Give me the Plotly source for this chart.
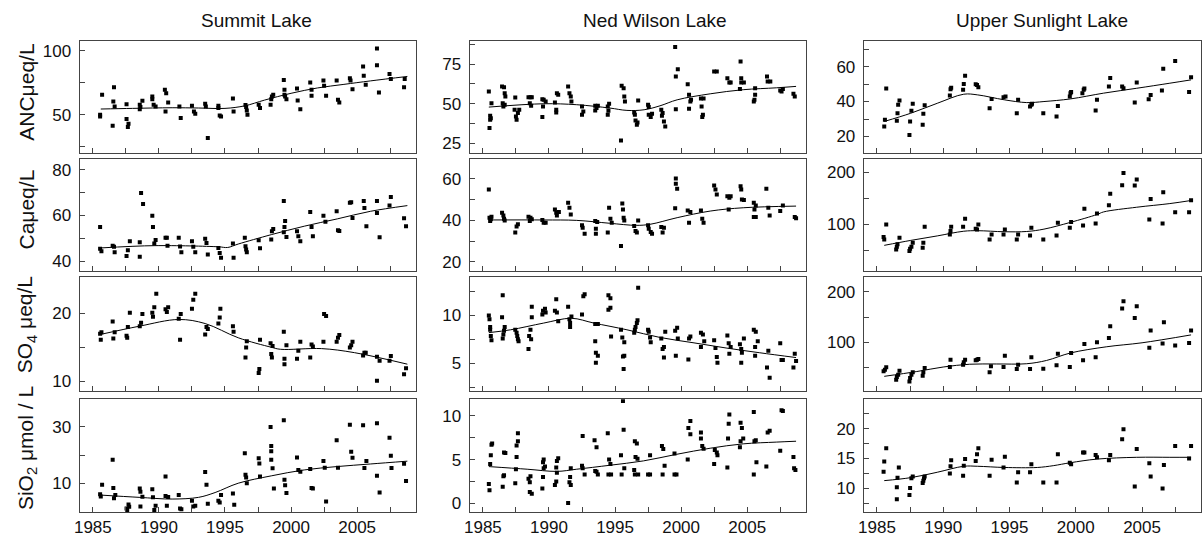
import plotly.graph_objects as go

# ---------------- DATA ----------------
lakes = ["Summit Lake", "Ned Wilson Lake", "Upper Sunlight Lake"]
variables = ["ANCμeq/L", "Caμeq/L", "SO<sub>4</sub> μeq/L", "SiO<sub>2</sub> μmol / L"]
x_tick_labels = ["1985", "", "1990", "", "1995", "", "2000", "", "2005", ""]
x_tick_years = [1985, 1987.5, 1990, 1992.5, 1995, 1997.5, 2000, 2002.5, 2005, 2007.5]

# Summit Lake
summit_anc_year = [1985.55, 1985.55, 1985.7, 1986.5, 1986.6, 1986.55, 1986.65, 1987.55, 1987.55, 1987.7, 1987.65,
                   1988.55, 1988.55, 1988.6, 1988.75, 1989.5, 1989.5, 1989.6, 1989.75, 1990.45, 1990.55, 1990.7, 1990.5,
                   1991.55, 1991.65, 1992.5, 1992.65, 1992.75, 1993.5, 1993.55, 1993.7, 1994.5, 1994.5, 1994.6, 1994.7,
                   1995.6, 1995.65, 1996.55, 1996.6, 1996.65, 1996.7, 1997.55, 1997.65, 1998.45, 1998.5, 1998.55, 1998.65,
                   1999.45, 1999.5, 1999.5, 1999.55, 1999.65, 2000.45, 2000.5, 2000.7, 2001.45, 2001.55, 2001.55,
                   2002.45, 2002.5, 2002.65, 2003.45, 2003.55, 2003.65, 2004.45, 2004.5, 2004.65, 2005.45, 2005.5, 2005.65,
                   2006.5, 2006.5, 2006.65, 2007.45, 2007.55, 2008.6, 2008.55]
summit_anc_value = [50, 48.7, 65.6, 41.4, 71.6, 60.4, 56.5, 58.3, 46.6, 43, 40.4,
                    57.8, 54.4, 56, 61, 64.3, 62.2, 57.8, 56.5, 69.5, 66.9, 59.6, 52.6,
                    56.5, 47.4, 57, 52.6, 50.8, 58.6, 56.5, 31.8, 57, 55.2, 49.5, 48.7,
                    62.8, 52.6, 57.6, 56, 53.4, 50, 57.8, 55.2, 57.8, 62.2, 64.3, 65.6,
                    77.3, 69.5, 65.6, 64.3, 62.2, 70.6, 61.2, 54.4, 75.3, 69.5, 64.8,
                    76.8, 72.7, 64.8, 76.8, 61.7, 59.6, 78.6, 76.8, 70, 87.8, 80.5, 73.4,
                    101.8, 88.8, 67.4, 82, 77.9, 77.9, 71.6]
summit_anc_trend_year = [1985.6, 1988, 1991, 1993, 1995, 1996.5, 1998, 2000, 2002, 2004, 2006, 2008.8]
summit_anc_trend_value = [54.5, 55, 55.5, 55.3, 55, 57, 61.5, 66.8, 71, 73.8, 76.5, 80]

summit_ca_year = [1985.55, 1985.55, 1985.65, 1986.5, 1986.6, 1986.65, 1987.55, 1987.65, 1987.8,
                  1988.55, 1988.55, 1988.65, 1988.8, 1989.5, 1989.55, 1989.65, 1989.75, 1990.5, 1990.6, 1990.65,
                  1991.5, 1991.6, 1991.7, 1992.5, 1992.6, 1992.75, 1993.5, 1993.6, 1993.7, 1994.5, 1994.6, 1994.7,
                  1995.65, 1995.6, 1996.5, 1996.55, 1996.6, 1996.65, 1997.55, 1997.65, 1998.5, 1998.55, 1998.65,
                  1999.45, 1999.55, 1999.5, 1999.45, 1999.65, 2000.45, 2000.55, 2000.7, 2001.45, 2001.55, 2001.65,
                  2002.45, 2002.6, 2003.45, 2003.55, 2003.65, 2004.45, 2004.55, 2004.65, 2005.5, 2005.55, 2005.7,
                  2006.5, 2006.5, 2006.7, 2007.45, 2007.55, 2008.55, 2008.7]
summit_ca_value = [55, 45.4, 44.4, 46.8, 46.3, 43.9, 42.3, 44.8, 48.7,
                   48.3, 41.9, 69.8, 65, 59.9, 55, 47.7, 49.3, 50.3, 50.3, 46.8,
                   50.3, 46.4, 43.9, 48.7, 46.3, 43.9, 49.8, 48, 42.9, 45.8, 43.6, 41.5,
                   41.5, 47.7, 50.3, 46.5, 45.1, 43.9, 49.2, 45.7, 49.5, 53.1, 54.1,
                   66.3, 57.6, 55, 52.7, 50.6, 53.1, 50.9, 48.7, 61.5, 55, 50.9,
                   59.9, 57.2, 61.8, 53.5, 53.2, 65.5, 65.8, 58.9, 66.3, 63.3, 55.3,
                   66.3, 61.1, 50.5, 64.3, 68.1, 58.8, 55.3]
summit_ca_trend_year = [1985.6, 1989.7, 1994.5, 1995.2, 1996, 1998.5, 2001, 2003.5, 2006, 2008.8]
summit_ca_trend_value = [45.8, 46.8, 46.3, 46.0, 47.5, 51.6, 55.3, 58.5, 61.8, 64.3]

summit_so4_year = [1985.55, 1985.65, 1985.6, 1986.5, 1986.55, 1986.65, 1987.55, 1987.6, 1987.65, 1987.8,
                   1988.55, 1988.65, 1988.75, 1989.5, 1989.55, 1989.65, 1989.8, 1990.5, 1990.6, 1990.7,
                   1991.5, 1991.6, 1991.65, 1992.5, 1992.6, 1992.75, 1993.5, 1993.6, 1993.7, 1994.5, 1994.6, 1994.65,
                   1995.6, 1995.65, 1996.55, 1996.6, 1996.65, 1997.55, 1997.6, 1997.65,
                   1998.45, 1998.55, 1998.5, 1998.6, 1999.45, 1999.5, 1999.5, 1999.65, 2000.45, 2000.55, 2000.7,
                   2001.45, 2001.55, 2001.65, 2002.45, 2002.5, 2002.65, 2003.45, 2003.55, 2003.65,
                   2004.45, 2004.55, 2004.65, 2005.45, 2005.55, 2005.65, 2006.5, 2006.5, 2006.7,
                   2007.45, 2007.55, 2008.55, 2008.7]
summit_so4_value = [17.0, 17.2, 16.1, 18.8, 16.3, 17.2, 16.7, 16.4, 18.0, 20.1,
                    18.1, 18.6, 19.9, 20.1, 19.5, 20.9, 22.9, 20.6, 20.2, 20.9,
                    19.2, 16.1, 19.9, 20.7, 22.0, 22.9, 16.9, 18.0, 17.7, 18.5, 19.4, 20.7,
                    18.1, 17.3, 13.5, 14.95, 15.9, 11.2, 11.8, 16.1,
                    15.6, 13.5, 14.0, 15.2, 17.3, 13.3, 12.5, 15.3, 13.3, 14.5, 15.8,
                    13.5, 15.4, 15.1, 15.8, 19.9, 19.6, 15.8, 16.4, 16.8,
                    14.95, 15.3, 15.8, 13.8, 14.2, 14.2, 13.6, 10.05, 13.0,
                    13.0, 13.7, 11.0, 11.9]
summit_so4_trend_year = [1985.6, 1988.5, 1991.5, 1993.5, 1996, 1998.5, 1999.2, 2002.3, 2004.8, 2008.8]
summit_so4_trend_value = [16.9, 18.1, 19.1, 18.5, 16.4, 15.0, 14.7, 14.8, 14.2, 12.5]

summit_sio2_year = [1985.55, 1985.6, 1985.7, 1986.5, 1986.55, 1986.6, 1986.7, 1987.55, 1987.7, 1987.75, 1987.6,
                    1988.55, 1988.6, 1988.75, 1988.6, 1989.5, 1989.55, 1989.75, 1989.65, 1990.5, 1990.5, 1990.7, 1990.6,
                    1991.5, 1991.6, 1991.7, 1992.5, 1992.6, 1992.75, 1993.5, 1993.6, 1993.7, 1994.5, 1994.6, 1994.7,
                    1995.6, 1995.7, 1996.5, 1996.55, 1996.6, 1996.65, 1997.55, 1997.6, 1997.65,
                    1998.45, 1998.5, 1998.5, 1998.5, 1998.6, 1998.7, 1999.45, 1999.5, 1999.55, 1999.65,
                    2000.45, 2000.55, 2000.7, 2001.45, 2001.55, 2001.65, 2002.45, 2002.55, 2002.65, 2003.45, 2003.55,
                    2004.45, 2004.55, 2004.65, 2005.45, 2005.55, 2005.7, 2006.5, 2006.5, 2006.7,
                    2007.45, 2007.55, 2007.6, 2008.55, 2008.7]
summit_sio2_value = [6.2, 5.4, 9.6, 18.4, 8.4, 4.8, 5.9, 1.2, 2.6, 1.8, 0.6,
                     8.2, 7.1, 5.3, 1.9, 8.0, 5.1, 2.1, 0.6, 12.5, 5.6, 5.2, 2.1,
                     5.9, 1.2, 0.9, 3.9, 1.9, 2.1, 14.1, 9.6, 2.8, 3.9, 3.3, 5.9,
                     6.5, 2.5, 20.7, 13.1, 12.1, 10.1, 18.9, 17.1, 12.5,
                     30, 23.3, 21.4, 18.4, 15.4, 8.2, 32.4, 11.3, 9.4, 6.6,
                     19.2, 14.8, 14.2, 15.1, 8.4, 8.2, 18, 15.6, 3.6, 25.3, 15.6,
                     30.8, 21.2, 19.1, 30.6, 15.5, 18, 31.3, 12.7, 6.8,
                     26.2, 19.8, 15.5, 17, 10.9]
summit_sio2_trend_year = [1985.6, 1988.5, 1991, 1993, 1994.25, 1996, 1998.5, 2001, 2003.5, 2006, 2008.8]
summit_sio2_trend_value = [5.9, 5.1, 4.5, 5.1, 6.8, 10.1, 12.7, 14.8, 16.0, 16.9, 17.9]

# Ned Wilson Lake
ned_anc_year = [1985.45, 1985.5, 1985.55, 1985.55, 1985.6, 1985.65,
                1986.45, 1986.6, 1986.65, 1986.7, 1986.5, 1986.55, 1986.65,
                1987.45, 1987.4, 1987.65, 1987.5, 1987.55, 1987.75,
                1988.45, 1988.6, 1988.7, 1988.55, 1988.65,
                1989.5, 1989.6, 1989.75, 1989.55, 1989.5,
                1990.45, 1990.55, 1990.55, 1990.6, 1990.7,
                1991.45, 1991.55, 1991.65, 1991.7,
                1992.5, 1992.5, 1992.6,
                1993.5, 1993.6, 1993.7, 1993.5,
                1994.45, 1994.55, 1994.5, 1994.45,
                1995.45, 1995.5, 1995.65, 1995.7, 1995.75,
                1996.45, 1996.5, 1996.55, 1996.65, 1996.7, 1996.75,
                1997.5, 1997.55, 1997.55, 1997.7, 1997.8,
                1998.5, 1998.6, 1998.55, 1998.7, 1998.8,
                1999.55, 1999.6, 1999.75, 1999.6,
                2000.5, 2000.6, 2000.7, 2000.75, 2000.6,
                2001.5, 2001.7, 2001.55, 2001.65, 2001.6,
                2002.5, 2002.7,
                2003.5, 2003.65, 2003.75,
                2004.5, 2004.55, 2004.55, 2004.75, 2004.45,
                2005.6, 2005.6, 2005.55, 2005.5,
                2006.5, 2006.55, 2006.75,
                2007.5, 2007.6, 2007.7,
                2008.5, 2008.6]
ned_anc_value = [57.7, 34.5, 39.8, 42.3, 40.8, 50.3,
                 60.9, 60.4, 56.6, 54.5, 50.3, 48.2, 49.3,
                 53.9, 46.1, 44, 41.9, 39.8, 46.1,
                 54.1, 54.1, 54.1, 50.3, 48.6,
                 52.8, 52.4, 51.4, 48.2, 41.5,
                 50.7, 46.1, 44.4, 56.6, 55.6,
                 60.9, 56.6, 54.5, 51.4,
                 48.2, 42.9, 45,
                 48.6, 47.2, 48.6, 45.7,
                 48.2, 49.9, 45.5, 42.9,
                 26.7, 61.3, 59.8, 54.5, 51.4,
                 44.4, 42.9, 39.3, 36.6, 38.1, 52,
                 49.3, 47.8, 42.9, 41.5, 43.6,
                 46.1, 44, 42.3, 38.7, 35.5,
                 85.8, 67.2, 71.8, 46.5,
                 62.3, 55.6, 51.4, 52.4, 46.7,
                 53.3, 53.3, 48.2, 42.9, 41.5,
                 70.4, 70.4,
                 66.1, 63.4, 63.4,
                 76.7, 66.1, 63.4, 63.4, 59.2,
                 59.8, 55.6, 52.4, 51.4,
                 67.2, 64, 64,
                 58.3, 57.7, 59.2,
                 56.2, 54.5]
ned_anc_trend_year = [1985.45, 1989.6, 1992.1, 1994.6, 1995.9, 1997.2, 1998.4, 1999.7, 2002.2, 2004.7, 2007.2, 2008.7]
ned_anc_trend_value = [47.8, 49.9, 49.3, 47.2, 45.7, 46.1, 48.6, 52.4, 56.2, 58.8, 60, 60.9]

ned_ca_year = [1985.45, 1985.5, 1985.6, 1985.55, 1985.65,
               1986.45, 1986.55, 1986.6, 1986.65,
               1987.45, 1987.55, 1987.65,
               1988.45, 1988.6, 1988.7, 1988.55,
               1989.5, 1989.6, 1989.75,
               1990.45, 1990.55, 1990.6, 1990.75,
               1991.45, 1991.55, 1991.65,
               1992.5, 1992.55, 1992.7,
               1993.5, 1993.65, 1993.55, 1993.55,
               1994.45, 1994.55, 1994.65, 1994.75,
               1995.45, 1995.55, 1995.6, 1995.65, 1995.7,
               1996.45, 1996.55, 1996.65, 1996.75,
               1997.5, 1997.55, 1997.7, 1997.8,
               1998.5, 1998.7, 1998.6,
               1999.6, 1999.6, 1999.7, 1999.55,
               2000.5, 2000.6, 2000.7,
               2001.5, 2001.6, 2001.7,
               2002.5, 2002.6, 2002.7,
               2003.5, 2003.65, 2003.75, 2003.6,
               2004.5, 2004.55, 2004.6, 2004.75,
               2005.5, 2005.55, 2005.5, 2005.65, 2005.65,
               2006.45, 2006.6, 2006.7,
               2007.5, 2007.7,
               2008.6, 2008.7]
ned_ca_value = [54.9, 41.3, 40.5, 39.7, 41.8,
                43.7, 42.4, 40.8, 40,
                34.1, 37, 38.1,
                41.8, 41.3, 40.5, 39.7,
                40.2, 38.9, 38.9,
                45.3, 43.7, 42.4, 44,
                48.5, 46.1, 42.9,
                37.6, 36.5, 33.6,
                39.7, 39.2, 36, 33.6,
                34.1, 46.1, 40.8, 38.9,
                27.6, 48.2, 45.3, 41.3, 40,
                37.3, 34.9, 34.1, 40,
                37.6, 36, 34.4, 33.6,
                36.8, 36.5, 34.1,
                60.2, 57.7, 55.3, 45.9,
                44.8, 38.9, 44,
                44.8, 40.8, 38.9,
                56.9, 54.9, 52.5,
                51.7, 50.9, 51.7, 45.3,
                56.5, 54.9, 50.1, 49.8,
                48.5, 45.3, 41.6, 41.6, 47.2,
                55.3, 46.1, 42.4,
                44.5, 47.2,
                41.6, 41]
ned_ca_trend_year = [1985.45, 1989.6, 1992.1, 1994.6, 1996.6, 1997.65, 1999.7, 2002.2, 2004.7, 2008.7]
ned_ca_trend_value = [40.2, 40.2, 40, 38.6, 37.6, 38.1, 41.3, 44.5, 46.1, 46.9]

ned_so4_year = [1985.45, 1985.5, 1985.55, 1985.55, 1985.6, 1985.65,
                1986.5, 1986.45, 1986.65, 1986.6, 1986.55, 1986.5,
                1987.45, 1987.55, 1987.6, 1987.65, 1987.7,
                1988.45, 1988.5, 1988.6, 1988.65, 1988.7, 1988.7,
                1989.5, 1989.55, 1989.7, 1989.75,
                1990.55, 1990.45, 1990.6, 1990.7,
                1991.45, 1991.55, 1991.6, 1991.6, 1991.7,
                1992.5, 1992.6, 1992.7,
                1993.5, 1993.7, 1993.5, 1993.55, 1993.7, 1993.55,
                1994.5, 1994.65, 1994.5, 1994.65, 1994.7,
                1995.45, 1995.55, 1995.7, 1995.6, 1995.7, 1995.65,
                1996.45, 1996.55, 1996.65, 1996.7, 1996.75, 1996.5,
                1997.5, 1997.55, 1997.65, 1997.7,
                1998.5, 1998.6, 1998.7, 1998.7, 1998.8,
                1999.55, 1999.7, 1999.75, 1999.6,
                2000.55, 2000.6, 2000.7,
                2001.5, 2001.65, 2001.5, 2001.75,
                2002.5, 2002.6, 2002.7, 2002.75,
                2003.5, 2003.6, 2003.65, 2003.75,
                2004.45, 2004.55, 2004.55, 2004.6, 2004.75,
                2005.5, 2005.65, 2005.6, 2005.6, 2005.8,
                2006.5, 2006.6, 2006.7,
                2007.5, 2007.6, 2007.7,
                2008.5, 2008.6, 2008.7]
ned_so4_value = [10.0, 9.6, 8.8, 8.5, 7.85, 7.4,
                 12.1, 9.8, 8.8, 8.4, 8.0, 7.6,
                 8.5, 8.2, 7.85, 7.5, 7.3,
                 6.5, 7.85, 8.5, 7.5, 9.8, 10.9,
                 10.1, 10.5, 10.7, 10.3,
                 11.7, 10.5, 10.3, 9.4,
                 10.9, 9.6, 9.2, 8.8, 9.9,
                 10.1, 12.0, 12.2,
                 9.1, 9.1, 7.3, 6.1, 5.8, 5.07,
                 12.1, 11.8, 10.6, 10.8, 7.8,
                 8.5, 7.7, 7.2, 5.7, 5.8, 4.4,
                 8.2, 8.8, 9.2, 9.5, 12.9, 8.5,
                 8.5, 8.3, 7.7, 7.2,
                 7.6, 6.5, 6.7, 5.6, 8.3,
                 8.4, 8.7, 7.6, 5.8,
                 5.4, 7.6, 7.8,
                 8.2, 8.0, 6.7, 7.3,
                 7.4, 6.6, 5.65, 5.07,
                 7.9, 7.1, 6.0, 6.7,
                 7.0, 6.5, 5.07, 6.1, 7.6,
                 8.5, 8.3, 6.7, 5.8, 7.3,
                 4.55, 6.3, 3.5,
                 7.1, 5.35, 5.35,
                 4.55, 6.0, 5.24]
ned_so4_trend_year = [1985.45, 1987.1, 1989.6, 1991.7, 1993.4, 1995.9, 1998.4, 2000.9, 2003.4, 2005.95, 2008.7]
ned_so4_trend_value = [8.2, 8.5, 9.2, 9.7, 9.2, 8.5, 7.7, 7.15, 6.6, 6.1, 5.6]

ned_sio2_year = [1985.45, 1985.5, 1985.55, 1985.6, 1985.65, 1985.7,
                 1986.5, 1986.55, 1986.6, 1986.6, 1986.7,
                 1987.45, 1987.5, 1987.55, 1987.55, 1987.65, 1987.65,
                 1988.45, 1988.55, 1988.6, 1988.55, 1988.7,
                 1989.5, 1989.55, 1989.55, 1989.6, 1989.6, 1989.7,
                 1990.45, 1990.55, 1990.6, 1990.55, 1990.6, 1990.7,
                 1991.45, 1991.55, 1991.65, 1991.6, 1991.65,
                 1992.55, 1992.5, 1992.55, 1992.7,
                 1993.45, 1993.6, 1993.5, 1993.6, 1993.7,
                 1994.45, 1994.55, 1994.65, 1994.5, 1994.7,
                 1995.6, 1995.65, 1995.45, 1995.7, 1995.5,
                 1996.5, 1996.65, 1996.55, 1996.7, 1996.45, 1996.5, 1996.75,
                 1997.65, 1997.5, 1997.65,
                 1998.55, 1998.65, 1998.75, 1998.6,
                 1999.5, 1999.5, 1999.65,
                 2000.5, 2000.55, 2000.7, 2000.7,
                 2001.5, 2001.5, 2001.6, 2001.7,
                 2002.5, 2002.55, 2002.7, 2002.75,
                 2003.5, 2003.55, 2003.6, 2003.65,
                 2004.5, 2004.6, 2004.5, 2004.45, 2004.7,
                 2005.5, 2005.5, 2005.55, 2005.65, 2005.7,
                 2006.45, 2006.55, 2006.7,
                 2007.5, 2007.6, 2007.7,
                 2008.5, 2008.55, 2008.65]
ned_sio2_value = [2.2, 1.5, 4.5, 5.5, 6.7, 6.85,
                  1.9, 3.1, 3.2, 5.8, 5.75,
                  2.3, 3.9, 5.3, 6.6, 7.1, 8.0,
                  2.8, 2.4, 3.1, 1.3, 1.1,
                  1.7, 3.0, 4.7, 5.0, 4.0, 4.2,
                  2.1, 2.5, 3.5, 4.1, 4.85, 5.15,
                  0.04, 2.4, 2.1, 3.0, 4.0,
                  7.7, 4.3, 4.0, 3.3,
                  7.2, 6.4, 3.7, 3.6, 3.3,
                  8.0, 5.0, 4.5, 3.3, 3.3,
                  11.7, 8.4, 5.5, 4.0, 3.3,
                  7.1, 6.85, 5.3, 5.1, 3.8, 3.3, 3.3,
                  5.5, 3.3, 3.3,
                  6.55, 6.2, 4.3, 3.3,
                  5.7, 3.3, 3.3,
                  5.0, 8.6, 9.4, 7.9,
                  8.1, 7.4, 6.55, 6.25,
                  4.5, 6.1, 5.8, 5.5,
                  4.1, 7.4, 9.1, 10.15,
                  9.2, 8.6, 7.1, 6.4, 7.4,
                  10.45, 3.3, 7.1, 7.2, 4.7,
                  4.2, 8.1, 8.3,
                  6.0, 10.65, 10.55,
                  5.3, 4.0, 3.8]
ned_sio2_trend_year = [1985.45, 1988.35, 1990.6, 1992.1, 1994.6, 1997.15, 1999.65, 2002.2, 2004.7, 2007.2, 2008.7]
ned_sio2_trend_value = [4.2, 3.9, 3.65, 3.9, 4.35, 4.85, 5.6, 6.3, 6.8, 7.0, 7.1]

# Upper Sunlight Lake
usl_anc_year = [1985.55, 1985.6, 1985.7, 1986.5, 1986.55, 1986.6, 1986.7, 1987.45, 1987.5, 1987.6, 1987.7,
                1988.45, 1988.5, 1988.6, 1990.5, 1990.55, 1990.6, 1991.5, 1991.55, 1991.65,
                1992.45, 1992.55, 1992.65, 1993.5, 1993.65, 1994.55, 1994.7, 1995.55, 1995.65,
                1996.55, 1996.65, 1996.7, 1997.55, 1998.55, 1998.65, 1999.55, 1999.6, 1999.65,
                2000.5, 2000.6, 2000.65, 2001.5, 2001.6, 2002.5, 2002.6, 2003.5, 2003.6,
                2004.45, 2004.6, 2005.5, 2005.65, 2006.5, 2006.6, 2007.5, 2008.55, 2008.7]
usl_anc_value = [25.7, 29.5, 47.4, 29, 33.3, 38.1, 40.6, 20.8, 28.6, 34.7, 38.7,
                 26.7, 33, 37.9, 43.4, 47, 47.9, 46.7, 50.1, 54.7,
                 49.9, 49.5, 48.2, 36.2, 41.5, 42.5, 42.9, 33.3, 41,
                 37.1, 38.1, 38.7, 33.3, 31.4, 37.5, 42.9, 44.8, 45.5,
                 44.8, 46.7, 47.4, 34.9, 41, 48.6, 53.5, 48.6, 47.6,
                 39.4, 50.9, 41.3, 43.8, 46.3, 58.7, 63.2, 45.5, 53.9]
usl_anc_trend_year = [1985.55, 1987.55, 1989.55, 1991.55, 1992.6, 1994.6, 1996.3, 1997.6, 1999.6, 2002.1, 2004.6, 2007.1, 2008.7]
usl_anc_trend_value = [28.6, 33.3, 39, 44.2, 43.8, 41, 39.4, 40, 41.5, 44.8, 47.6, 50.5, 52.4]

usl_ca_year = [1985.5, 1985.55, 1985.7, 1986.45, 1986.5, 1986.55, 1986.7, 1987.45, 1987.5, 1987.6, 1987.7,
               1988.45, 1988.5, 1988.6, 1990.5, 1990.55, 1990.6, 1991.5, 1991.65,
               1992.45, 1992.55, 1992.65, 1993.5, 1993.65, 1994.55, 1994.65, 1995.55, 1995.65,
               1996.55, 1996.65, 1997.55, 1998.55, 1998.65, 1999.55, 1999.65,
               2000.55, 2000.65, 2001.5, 2001.6, 2002.5, 2002.6, 2003.5, 2003.6,
               2004.45, 2004.6, 2005.55, 2005.65, 2006.55, 2006.6, 2007.5, 2008.55, 2008.7]
usl_ca_value = [75.8, 71.3, 100, 52.2, 57.3, 61.8, 74.5, 49, 53.5, 57.3, 65,
                55.4, 65, 95.5, 80.9, 87.3, 95.5, 95.5, 110.8,
                91.7, 90.4, 100, 71.3, 80.9, 80.9, 90.4, 71.3, 80.9,
                79, 93.6, 71.3, 79, 103.2, 93.6, 104.5,
                98.1, 129.9, 101.9, 121, 136.9, 158.6, 175.2, 198.7,
                174.5, 186, 109.6, 149, 101.9, 161.8, 123.6, 123.6, 146.5]
usl_ca_trend_year = [1985.55, 1987.55, 1989.55, 1991.55, 1992.6, 1994.6, 1996.3, 1997.6, 1999.6, 2001.6, 2002.1, 2004.6, 2007.1, 2008.7]
usl_ca_trend_value = [59.9, 69.4, 78, 87, 88, 86, 86.5, 91, 104, 119, 124, 133, 140, 145.9]

usl_so4_year = [1985.5, 1985.6, 1985.7, 1986.45, 1986.5, 1986.6, 1986.7, 1987.45, 1987.5, 1987.6, 1987.7,
                1988.45, 1988.5, 1988.6, 1990.5, 1990.55, 1991.5, 1991.55, 1991.65,
                1992.45, 1992.55, 1992.65, 1993.5, 1993.6, 1994.55, 1994.65, 1995.55, 1995.65,
                1996.55, 1996.65, 1997.55, 1998.55, 1998.65, 1999.55, 1999.65,
                2000.55, 2000.65, 2001.5, 2001.6, 2002.5, 2002.6, 2003.5, 2003.6,
                2004.45, 2004.6, 2005.55, 2005.65, 2006.55, 2006.65, 2007.5, 2008.55, 2008.7]
usl_so4_value = [42.4, 45.7, 50.3, 25.8, 31.1, 35.8, 43.7, 22.5, 29.1, 35.8, 40.4,
                 33.8, 40.4, 49, 51, 65.6, 55.6, 60.3, 65.6,
                 64.2, 65.6, 66.9, 40.4, 52.3, 51, 73.5, 47, 55.6,
                 47, 70.2, 47.7, 54.3, 77.5, 51, 78.8,
                 64.2, 96.7, 70.2, 100, 108.6, 131.8, 166.9, 181.5,
                 148.3, 171.5, 89.4, 123.2, 97.4, 139.7, 93.4, 98.7, 123.2]
usl_so4_trend_year = [1985.55, 1988, 1990, 1992, 1994, 1996.3, 1997.8, 1999.6, 2002.3, 2005, 2008.7]
usl_so4_trend_value = [32.5, 42, 51, 56.5, 57, 57.5, 64, 78.8, 91, 99, 114.6]

usl_sio2_year = [1985.5, 1985.55, 1985.7, 1986.5, 1986.5, 1986.55, 1986.65, 1987.45, 1987.5, 1987.6, 1987.7,
                 1988.45, 1988.5, 1988.55, 1988.6, 1990.5, 1990.55, 1990.6, 1991.5, 1991.55, 1991.65,
                 1992.45, 1992.55, 1992.65, 1993.5, 1993.65, 1994.55, 1994.65, 1995.55, 1995.65,
                 1996.55, 1996.65, 1997.55, 1998.55, 1998.65, 1999.55, 1999.65,
                 2000.55, 2000.65, 2001.5, 2001.6, 2002.5, 2002.6, 2003.5, 2003.6,
                 2004.45, 2004.6, 2005.55, 2005.65, 2006.55, 2006.65, 2007.5, 2008.55, 2008.7]
usl_sio2_value = [12.8, 14.5, 16.7, 8.2, 10.2, 11.8, 13.5, 8.9, 10.05, 11.7, 12,
                  10.9, 11.3, 11.7, 12, 12.5, 13.7, 14.7, 12.1, 13.8, 14.9,
                  14.6, 15.7, 16.7, 12.1, 14.8, 13.5, 15.3, 11, 12.7,
                  12.7, 14.05, 11, 11, 15.7, 14.3, 14.05,
                  16, 16, 15.6, 15.2, 14.7, 15.6, 18.2, 19.9,
                  10.3, 16.6, 14.2, 12, 10, 13.9, 17.1, 15, 17.1]
usl_sio2_trend_year = [1985.55, 1987.55, 1989.55, 1991.55, 1992.6, 1994.6, 1997.1, 1998.3, 1999.6, 2001.6, 2004.6, 2007.1, 2008.7]
usl_sio2_trend_value = [11.3, 11.8, 12.7, 13.7, 13.7, 13.5, 13.5, 13.8, 14.3, 14.9, 15.2, 15.2, 15.2]

# ---------------- LAYOUT ----------------
W, H = 1204, 540
FONT = "Liberation Sans, Arial, Helvetica, sans-serif"
FRAME = "#444444"

panels = [
    [(summit_anc_year, summit_anc_value, summit_anc_trend_year, summit_anc_trend_value),
     (ned_anc_year, ned_anc_value, ned_anc_trend_year, ned_anc_trend_value),
     (usl_anc_year, usl_anc_value, usl_anc_trend_year, usl_anc_trend_value)],
    [(summit_ca_year, summit_ca_value, summit_ca_trend_year, summit_ca_trend_value),
     (ned_ca_year, ned_ca_value, ned_ca_trend_year, ned_ca_trend_value),
     (usl_ca_year, usl_ca_value, usl_ca_trend_year, usl_ca_trend_value)],
    [(summit_so4_year, summit_so4_value, summit_so4_trend_year, summit_so4_trend_value),
     (ned_so4_year, ned_so4_value, ned_so4_trend_year, ned_so4_trend_value),
     (usl_so4_year, usl_so4_value, usl_so4_trend_year, usl_so4_trend_value)],
    [(summit_sio2_year, summit_sio2_value, summit_sio2_trend_year, summit_sio2_trend_value),
     (ned_sio2_year, ned_sio2_value, ned_sio2_trend_year, ned_sio2_trend_value),
     (usl_sio2_year, usl_sio2_value, usl_sio2_trend_year, usl_sio2_trend_value)],
]

y_ranges = [
    [[20.3, 107.8], [18.9, 89.7], [10.7, 74.7]],
    [[35.5, 84.8], [15.3, 69.8], [9.8, 226]],
    [[8.5, 25.3], [2.08, 13.96], [2.9, 228.4]],
    [[-0.1, 39.8], [-1.0, 11.9], [6.05, 24.9]],
]
y_ticks = [
    [([25, 50, 75, 100], ["", "50", "", "100"]),
     ([25, 37.5, 50, 62.5, 75, 87.5], ["25", "", "50", "", "75", ""]),
     ([20, 30, 40, 50, 60, 70], ["20", "", "40", "", "60", ""])],
    [([40, 50, 60, 70, 80], ["40", "", "60", "", "80"]),
     ([20, 30, 40, 50, 60], ["20", "", "40", "", "60"]),
     ([50, 100, 150, 200], ["", "100", "", "200"])],
    [([10, 15, 20], ["10", "", "20"]),
     ([2.5, 5, 7.5, 10, 12.5], ["", "5", "", "10", ""]),
     ([50, 100, 150, 200], ["", "100", "", "200"])],
    [([10, 20, 30], ["10", "", "30"]),
     ([0, 2.5, 5, 7.5, 10], ["0", "", "5", "", "10"]),
     ([7.5, 10, 12.5, 15, 17.5, 20, 22.5], ["", "10", "", "15", "", "20", ""])],
]

col_px = [(74, 412), (466, 804), (862, 1201)]
row_px = [(41, 153), (159, 272), (278, 392), (400, 513)]
title_x_px = [252, 652, 1041]
ylabel_y_px = [92, 210, 325, 449]

fig = go.Figure()
layout = dict(
    width=W, height=H, margin=dict(l=0, r=0, t=0, b=0),
    paper_bgcolor="white", plot_bgcolor="white", showlegend=False,
    font=dict(family=FONT, color="#111111"),
)
annotations = []

for r in range(4):
    for c in range(3):
        n = r * 3 + c + 1
        xs, ys, tx, ty = panels[r][c]
        xa = "x" if n == 1 else f"x{n}"
        ya = "y" if n == 1 else f"y{n}"
        fig.add_trace(go.Scatter(x=xs, y=ys, mode="markers", xaxis=xa, yaxis=ya,
                                 marker=dict(symbol="square", size=4, color="black", line=dict(width=0)),
                                 hoverinfo="x+y"))
        fig.add_trace(go.Scatter(x=tx, y=ty, mode="lines", xaxis=xa, yaxis=ya,
                                 line=dict(color="black", width=1, shape="spline", smoothing=1.0),
                                 hoverinfo="skip"))
        l, rr = col_px[c]
        t, b = row_px[r]
        xkey = "xaxis" if n == 1 else f"xaxis{n}"
        ykey = "yaxis" if n == 1 else f"yaxis{n}"
        layout[xkey] = dict(
            domain=[l / W, rr / W], range=[1984.0, 2009.45], anchor=ya,
            showline=True, mirror=True, linecolor=FRAME, linewidth=1,
            showgrid=False, zeroline=False,
            ticks="inside", ticklen=5, tickcolor=FRAME, tickwidth=1,
            tickmode="array", tickvals=x_tick_years, ticktext=x_tick_labels,
            showticklabels=(r == 3), tickfont=dict(size=17, family=FONT, color="#111111"),
        )
        tv, tt = y_ticks[r][c]
        layout[ykey] = dict(
            domain=[1 - b / H, 1 - t / H], range=y_ranges[r][c], anchor=xa,
            showline=True, mirror=True, linecolor=FRAME, linewidth=1,
            showgrid=False, zeroline=False,
            ticks="inside", ticklen=5, tickcolor=FRAME, tickwidth=1,
            tickmode="array", tickvals=tv, ticktext=tt,
            tickfont=dict(size=17, family=FONT, color="#111111"),
            ticklabelstandoff=4,
        )

for c in range(3):
    annotations.append(dict(text=lakes[c], x=title_x_px[c] / W, y=1 - 21 / H, xref="paper", yref="paper",
                            xanchor="center", yanchor="middle", showarrow=False,
                            font=dict(size=19, family=FONT, color="#111111")))
for r in range(4):
    annotations.append(dict(text=variables[r], x=21 / W, y=1 - ylabel_y_px[r] / H, xref="paper", yref="paper",
                            xanchor="center", yanchor="middle", textangle=-90, showarrow=False,
                            font=dict(size=21, family=FONT, color="#111111")))

layout["annotations"] = annotations
fig.update_layout(**layout)
fig.write_html("out.html", config={"displayModeBar": False},
               post_script="document.body.style.margin='0';document.body.style.padding='0';")
